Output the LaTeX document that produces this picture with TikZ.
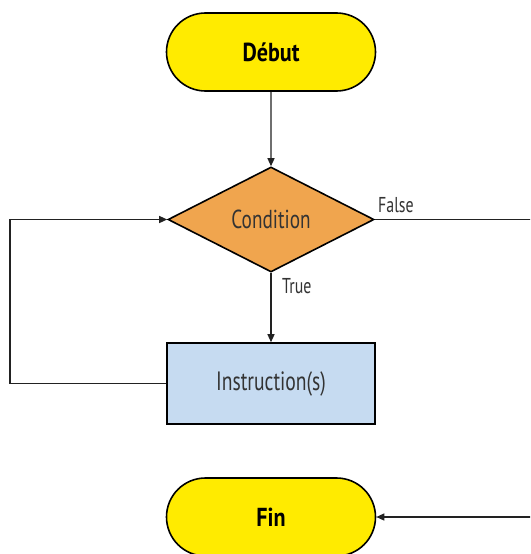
\documentclass[tikz,border=0pt]{standalone}
\usepackage{fontspec}
\setmainfont{PT Sans}[FakeStretch=0.74]
\newfontfamily\termfont{PT Sans}[FakeStretch=0.85]
\usetikzlibrary{shapes.geometric,shapes.misc,arrows.meta}
\definecolor{termyellow}{HTML}{FFEB00}
\definecolor{condorange}{HTML}{F0A54E}
\definecolor{instrblue}{HTML}{C6DBF1}
\definecolor{linegray}{HTML}{222222}
\definecolor{textgray}{HTML}{333333}
\tikzset{
  terminal/.style={rounded rectangle, draw=black, line width=1.6pt, fill=termyellow,
    minimum width=209pt, minimum height=78pt, inner sep=0pt,
    font=\termfont\bfseries\fontsize{26}{30}\selectfont, text=black},
  decision/.style={diamond, draw=black, line width=1.6pt, fill=condorange,
    minimum width=206pt, minimum height=105pt, inner sep=0pt,
    font=\fontsize{26}{30}\selectfont, text=textgray},
  process/.style={rectangle, draw=black, line width=1.6pt, fill=instrblue,
    minimum width=208pt, minimum height=81pt, inner sep=0pt,
    font=\fontsize{26.5}{30}\selectfont, text=textgray},
  flow/.style={draw=linegray, line width=1.3pt, -{Triangle[length=8pt,width=7pt]}},
  flowlabel/.style={font=\fontsize{21.5}{24}\selectfont, text=textgray, inner sep=0pt}
}
\begin{document}
\begin{tikzpicture}[x=1pt,y=-1pt]
\useasboundingbox (0,0) rectangle (530,554);
\clip (0,0) rectangle (530,554);
\node[terminal] (debut) at (271,52) {Début};
\node[decision] (cond) at (271,219.5) {Condition};
\node[process] (instr) at (271,383.5) {Instruction(s)};
\node[terminal] (fin) at (271,517) {Fin};
\coordinate (loopx) at (10,0);
\coordinate (rightx) at (540,0);
\draw[flow] (debut) -- (cond);
\draw[flow] (cond) -- (instr);
\draw[flow] (instr.west) -- (instr.west -| loopx) |- (cond.west);
\draw[flow] (cond.east) -- (cond.east -| rightx) |- (fin.east);
\node[flowlabel, anchor=west] (truelab) at (282,286) {True};
\node[flowlabel, anchor=south west] (falselab) at (378,213) {False};
\end{tikzpicture}
\end{document}
